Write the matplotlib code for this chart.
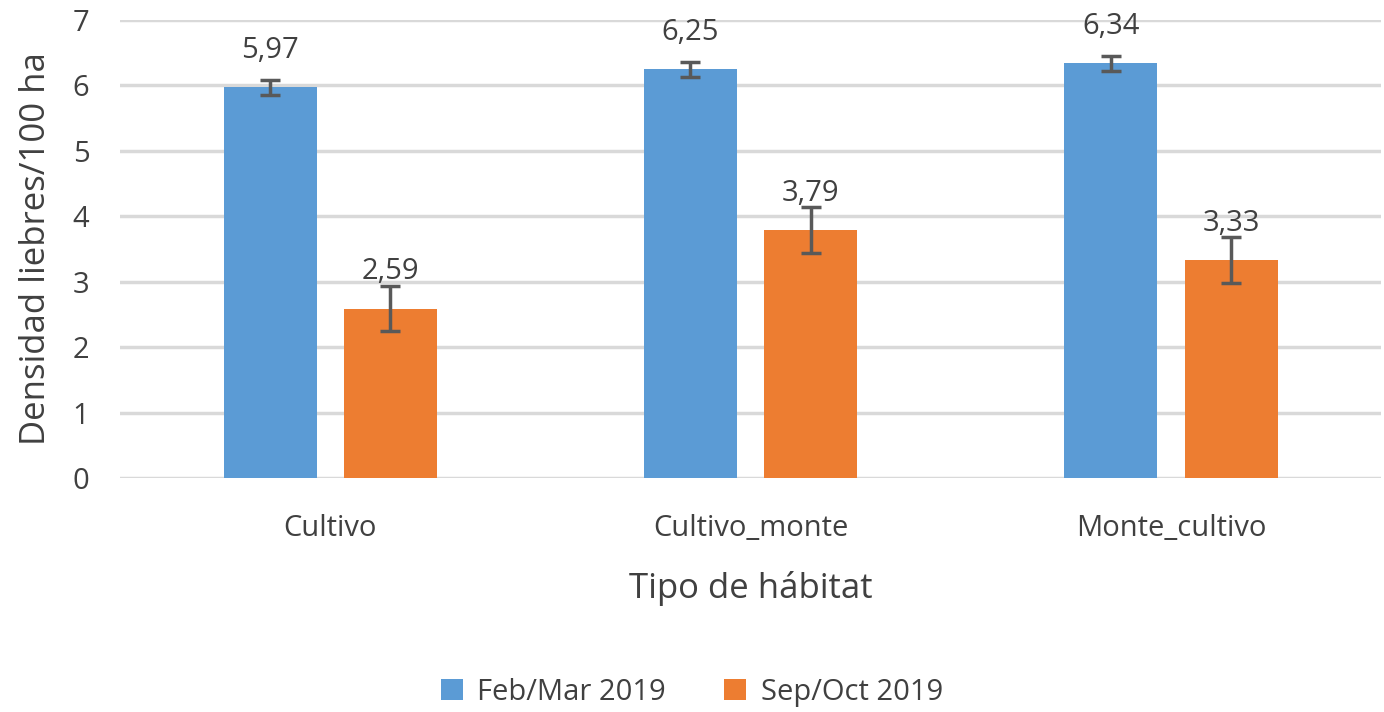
import numpy as np
import matplotlib
matplotlib.use("Agg")
import matplotlib.pyplot as plt

# Data
categories = ["Cultivo", "Cultivo_monte", "Monte_cultivo"]
series_names = ["Feb/Mar 2019", "Sep/Oct 2019"]
feb_mar = [5.97, 6.25, 6.34]
sep_oct = [2.59, 3.79, 3.33]
feb_mar_err = [0.12, 0.115, 0.115]
sep_oct_err = [0.35, 0.357, 0.35]

plt.rcParams['font.family'] = ['Open Sans', 'DejaVu Sans']

fig = plt.figure(figsize=(13.84, 7.12), dpi=100)
ax = fig.add_axes([0.0867, 0.3287, 0.9113, 0.6432])

x = np.arange(len(categories))
width = 0.221
offset = 0.143
text_color = '#404040'
err_kw = dict(ecolor='#595959', elinewidth=2.5, capsize=7.5, capthick=2.5)

b1 = ax.bar(x - offset, feb_mar, width, color='#5B9BD5', label=series_names[0],
            yerr=feb_mar_err, error_kw=err_kw, zorder=3)
b2 = ax.bar(x + offset, sep_oct, width, color='#ED7D31', label=series_names[1],
            yerr=sep_oct_err, error_kw=err_kw, zorder=3)

for bars, vals in [(b1, feb_mar), (b2, sep_oct)]:
    for rect, v in zip(bars, vals):
        ax.annotate(f"{v:.2f}".replace('.', ','),
                    (rect.get_x() + rect.get_width() / 2, rect.get_height()),
                    xytext=(0, 16), textcoords='offset points',
                    ha='center', va='bottom', fontsize=21, color=text_color, zorder=4)

ax.set_xlim(-0.5, 2.5)
ax.set_ylim(0, 7)
ax.set_yticks(range(0, 8))
ax.set_xticks(x)
ax.set_xticklabels(categories)
ax.grid(axis='y', color='#D9D9D9', linewidth=2.5, zorder=0)
for s in ax.spines.values():
    s.set_visible(False)
ax.tick_params(axis='both', length=0, labelsize=21, colors=text_color, pad=22)
ax.tick_params(axis='x', pad=26)

ax.set_ylabel("Densidad liebres/100 ha", fontsize=25, color=text_color, labelpad=14)
ax.set_xlabel("Tipo de hábitat", fontsize=25, color=text_color, labelpad=20)

fig.legend(handles=[b1, b2], labels=series_names, loc='center',
           bbox_to_anchor=(0.5, 0.028), ncol=2, frameon=False, fontsize=21,
           handlelength=0.75, handleheight=0.75, columnspacing=2.0,
           handletextpad=0.5, labelcolor=text_color)

fig.savefig("out.png", dpi=100)
